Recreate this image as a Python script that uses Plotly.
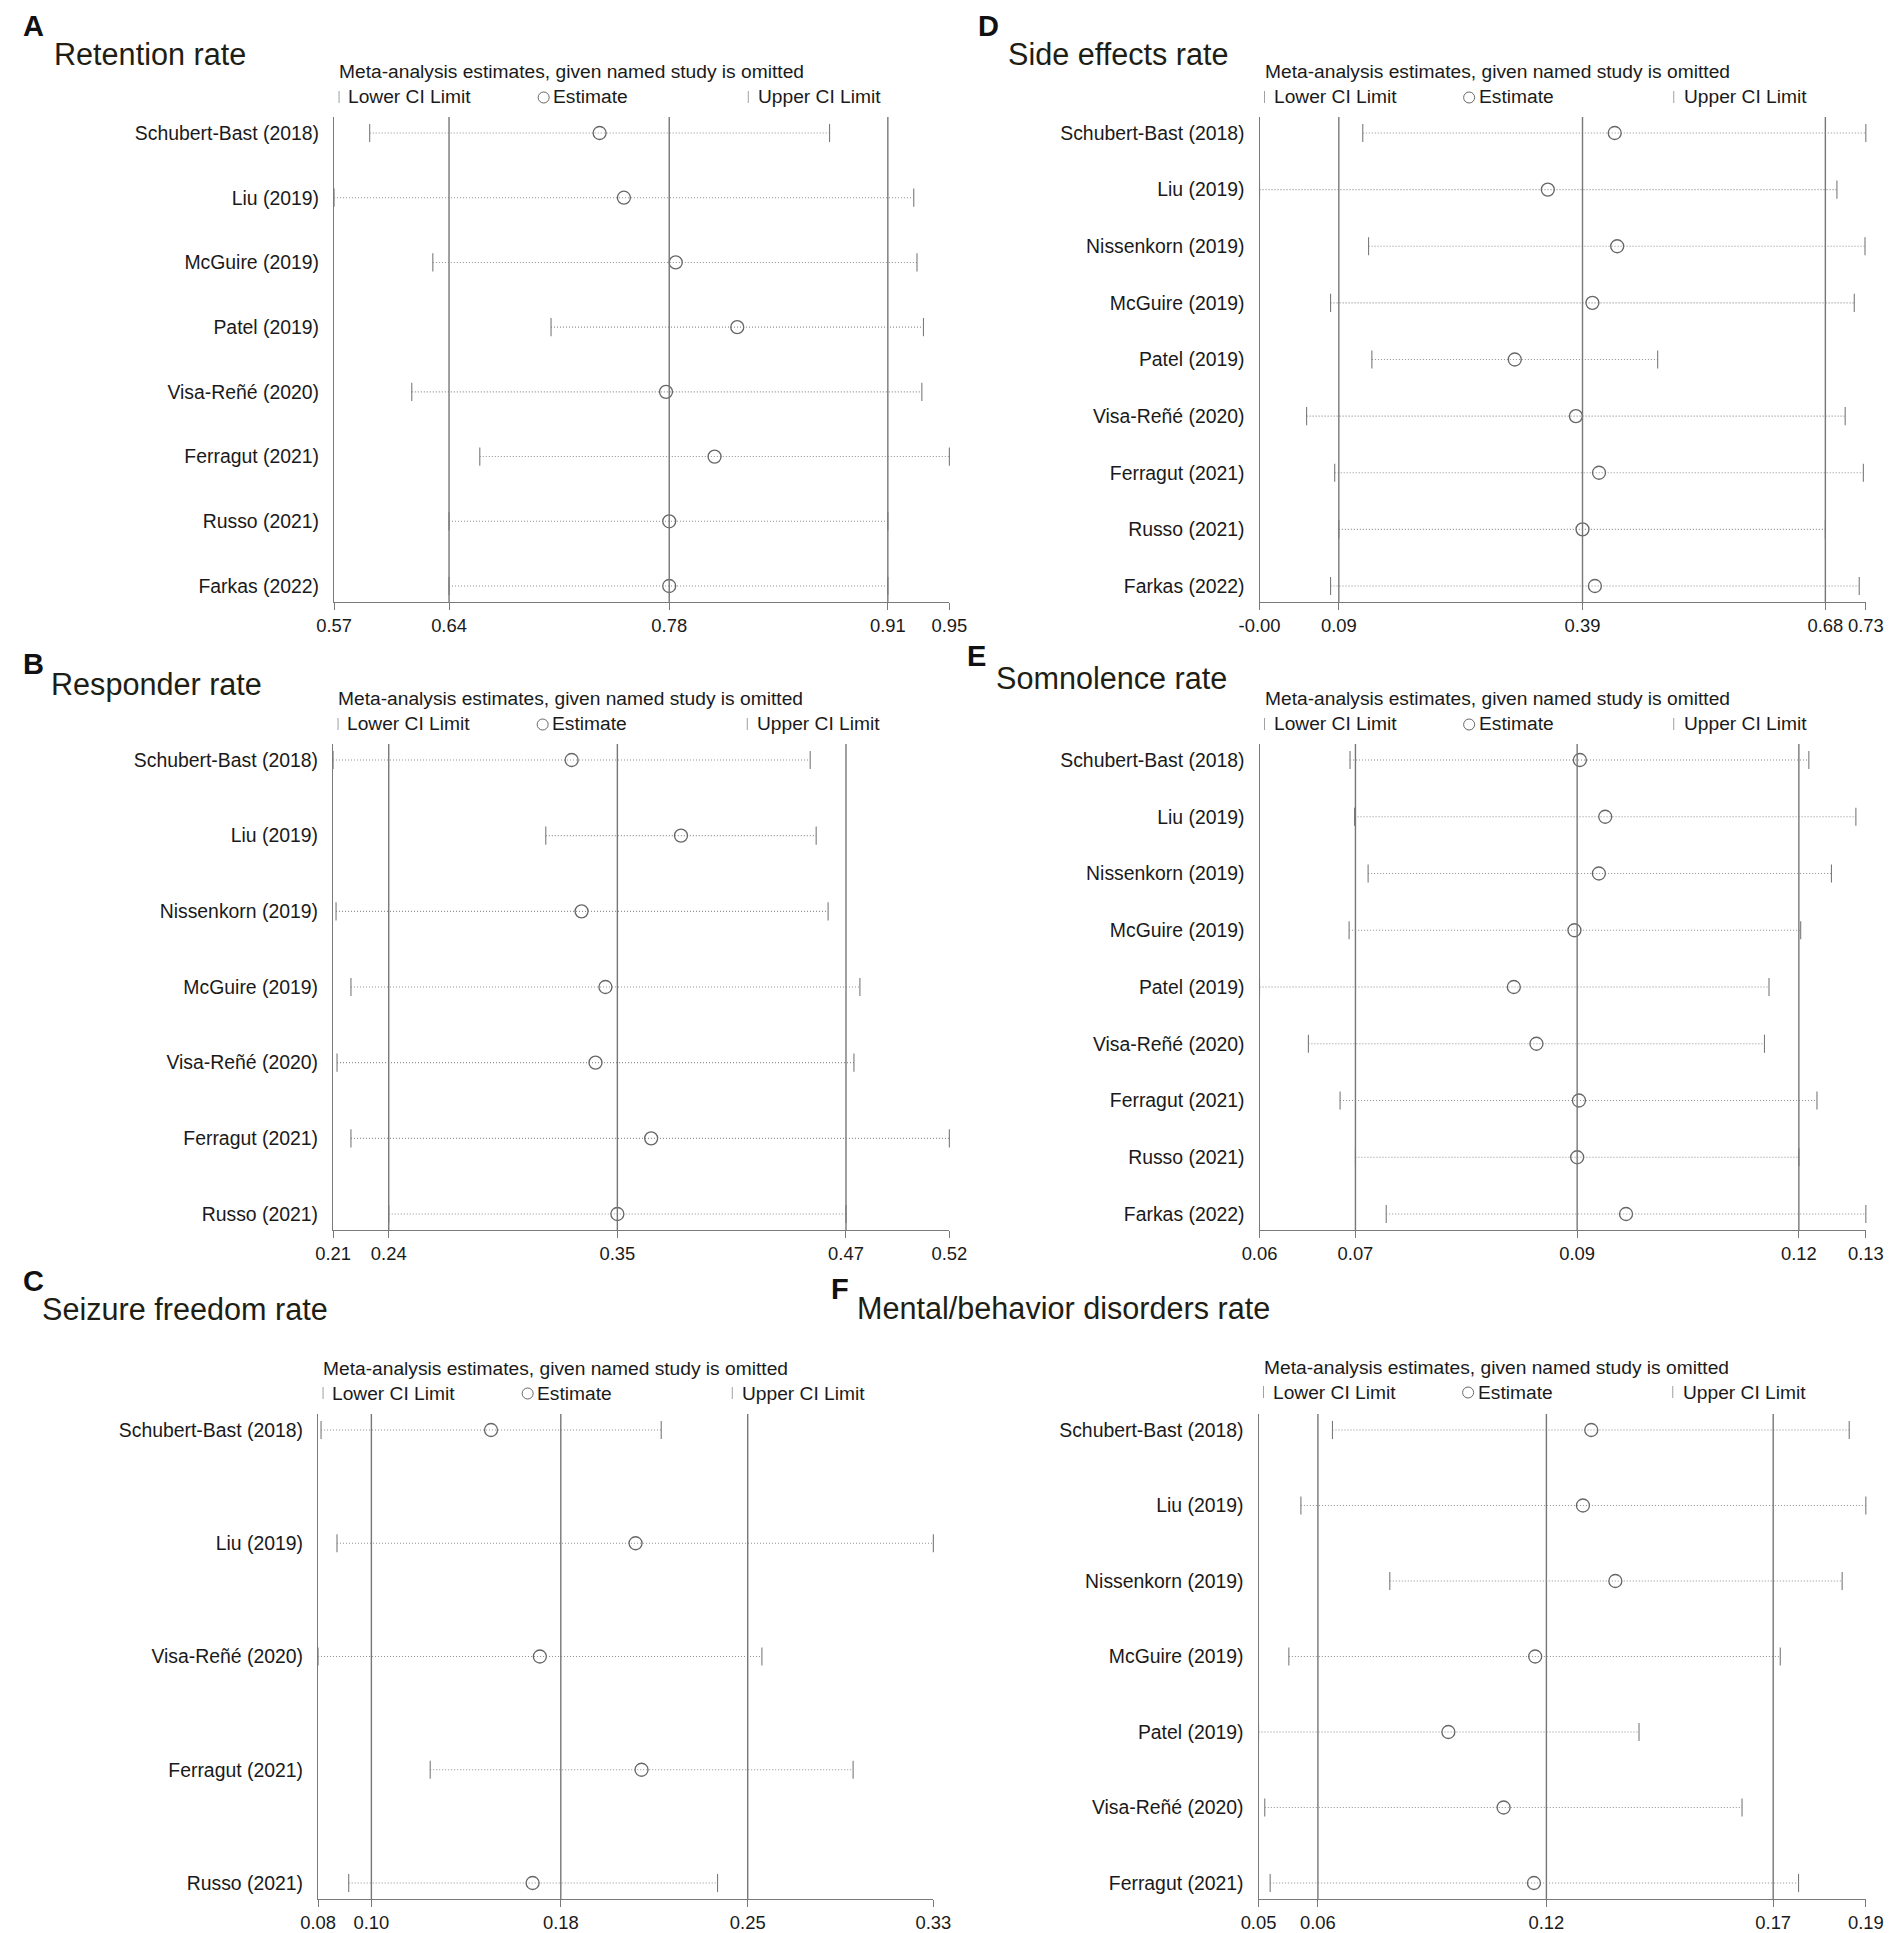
import plotly.graph_objects as go

W, H = 1902, 1933
# the photographed page comes out slightly squeezed sideways; positions below
# are where things should land in the photo, converted back with these two
KX, X0 = 0.979, 19.1

# ---- data ----
studies_A = ["Schubert-Bast (2018)", "Liu (2019)", "McGuire (2019)", "Patel (2019)",
             "Visa-Reñé (2020)", "Ferragut (2021)", "Russo (2021)", "Farkas (2022)"]
lo_A = [0.592, 0.570, 0.631, 0.704, 0.618, 0.660, 0.641, 0.641]
est_A = [0.734, 0.749, 0.781, 0.819, 0.775, 0.805, 0.777, 0.777]
hi_A = [0.876, 0.928, 0.930, 0.934, 0.933, 0.950, 0.912, 0.912]
overall_A = [0.641, 0.777, 0.912]
ticks_A = ["0.57", "0.64", "0.78", "0.91", "0.95"]

studies_B = ["Schubert-Bast (2018)", "Liu (2019)", "Nissenkorn (2019)", "McGuire (2019)",
             "Visa-Reñé (2020)", "Ferragut (2021)", "Russo (2021)"]
lo_B = [0.212, 0.319, 0.2135, 0.221, 0.214, 0.221, 0.240]
est_B = [0.332, 0.387, 0.337, 0.349, 0.344, 0.372, 0.355]
hi_B = [0.452, 0.455, 0.461, 0.477, 0.474, 0.522, 0.470]
overall_B = [0.240, 0.355, 0.470]
ticks_B = ["0.21", "0.24", "0.35", "0.47", "0.52"]

studies_C = ["Schubert-Bast (2018)", "Liu (2019)", "Visa-Reñé (2020)", "Ferragut (2021)",
             "Russo (2021)"]
lo_C = [0.0818, 0.0882, 0.0806, 0.1256, 0.0929]
est_C = [0.1500, 0.2080, 0.1696, 0.2104, 0.1667]
hi_C = [0.2183, 0.3275, 0.2587, 0.2953, 0.2409]
overall_C = [0.102, 0.178, 0.253]
ticks_C = ["0.08", "0.10", "0.18", "0.25", "0.33"]

studies_D = ["Schubert-Bast (2018)", "Liu (2019)", "Nissenkorn (2019)", "McGuire (2019)",
             "Patel (2019)", "Visa-Reñé (2020)", "Ferragut (2021)", "Russo (2021)",
             "Farkas (2022)"]
lo_D = [0.121, -0.004, 0.128, 0.082, 0.132, 0.053, 0.087, 0.092, 0.082]
est_D = [0.426, 0.345, 0.429, 0.399, 0.305, 0.379, 0.407, 0.387, 0.402]
hi_D = [0.730, 0.695, 0.729, 0.716, 0.478, 0.705, 0.727, 0.681, 0.722]
overall_D = [0.092, 0.387, 0.681]
ticks_D = ["-0.00", "0.09", "0.39", "0.68", "0.73"]

studies_E = studies_D
lo_E = [0.0689, 0.0694, 0.0709, 0.0688, 0.0589, 0.0643, 0.0678, 0.0695, 0.0729]
est_E = [0.0943, 0.0971, 0.0964, 0.0937, 0.0870, 0.0895, 0.0942, 0.0940, 0.0994]
hi_E = [0.1196, 0.1248, 0.1221, 0.1187, 0.1152, 0.1147, 0.1205, 0.1185, 0.1259]
overall_E = [0.0695, 0.0940, 0.1185]
ticks_E = ["0.06", "0.07", "0.09", "0.12", "0.13"]

studies_F = ["Schubert-Bast (2018)", "Liu (2019)", "Nissenkorn (2019)", "McGuire (2019)",
             "Patel (2019)", "Visa-Reñé (2020)", "Ferragut (2021)"]
lo_F = [0.0661, 0.0585, 0.0799, 0.0556, 0.0483, 0.0498, 0.0511]
est_F = [0.1284, 0.1264, 0.1342, 0.1149, 0.0940, 0.1073, 0.1146]
hi_F = [0.1905, 0.1945, 0.1888, 0.1739, 0.1399, 0.1647, 0.1783]
overall_F = [0.0626, 0.1176, 0.1722]
ticks_F = ["0.05", "0.06", "0.12", "0.17", "0.19"]

FONT = "Liberation Sans, Arial, sans-serif"
TXT = "#1a1a1a"

# layout boxes in photo pixels: (left, top, right, bottom) of the plot area
panels = [
    dict(letter="A", title="Retention rate", s=studies_A, lo=lo_A, est=est_A, hi=hi_A,
         ov=overall_A, tk=ticks_A, box=(332, 117, 947, 602), lt=(3, 26), ti=(50, 54),
         hdr=71, leg=97),
    dict(letter="B", title="Responder rate", s=studies_B, lo=lo_B, est=est_B, hi=hi_B,
         ov=overall_B, tk=ticks_B, box=(331, 744, 947, 1230), lt=(3, 664), ti=(47, 684),
         hdr=699, leg=724),
    dict(letter="C", title="Seizure freedom rate", s=studies_C, lo=lo_C, est=est_C, hi=hi_C,
         ov=overall_C, tk=ticks_C, box=(316, 1414, 931, 1899), lt=(3, 1281), ti=(38, 1309),
         hdr=1368, leg=1393),
    dict(letter="D", title="Side effects rate", s=studies_D, lo=lo_D, est=est_D, hi=hi_D,
         ov=overall_D, tk=ticks_D, box=(1257, 117, 1863, 602), lt=(974, 26), ti=(1004, 54),
         hdr=71, leg=97),
    dict(letter="E", title="Somnolence rate", s=studies_E, lo=lo_E, est=est_E, hi=hi_E,
         ov=overall_E, tk=ticks_E, box=(1257, 744, 1863, 1230), lt=(963, 656), ti=(992, 678),
         hdr=699, leg=724),
    dict(letter="F", title="Mental/behavior disorders rate", s=studies_F, lo=lo_F, est=est_F,
         hi=hi_F, ov=overall_F, tk=ticks_F, box=(1256, 1414, 1863, 1899), lt=(827, 1289),
         ti=(853, 1308), hdr=1367, leg=1392),
]


def px(x):
    return max((x - X0) / KX, 0) / W


def py(y):
    return 1 - y / H


fig = go.Figure()
shapes = []
annotations = []
axes = {}

for i, p in enumerate(panels, start=1):
    xa = "x" if i == 1 else f"x{i}"
    ya = "y" if i == 1 else f"y{i}"
    l, t, r, b = p["box"]
    n = len(p["s"])
    spacing = (b - t - 32) / (n - 1)
    pad = 16 / spacing

    # dotted CI lines
    xs, ys = [], []
    for s, lo, hi in zip(p["s"], p["lo"], p["hi"]):
        xs += [lo, hi, None]
        ys += [s, s, None]
    fig.add_trace(go.Scatter(x=xs, y=ys, mode="lines", xaxis=xa, yaxis=ya,
                             line=dict(color="#8f8f8f", width=1.1, dash="1px,2px"),
                             hoverinfo="skip", showlegend=False, cliponaxis=False))
    # CI caps
    fig.add_trace(go.Scatter(x=p["lo"] + p["hi"], y=p["s"] + p["s"], mode="markers",
                             xaxis=xa, yaxis=ya, showlegend=False, cliponaxis=False,
                             marker=dict(symbol="line-ns", size=13,
                                         line=dict(color="#7a7a7a", width=1.1))))
    # estimates
    fig.add_trace(go.Scatter(x=p["est"], y=p["s"], mode="markers", xaxis=xa, yaxis=ya,
                             showlegend=False, cliponaxis=False,
                             marker=dict(symbol="circle-open", size=13,
                                         color="#666666", line=dict(width=1.3))))

    # overall estimate and CI
    for v in p["ov"]:
        shapes.append(dict(type="line", xref=xa, yref=f"{ya} domain", x0=v, x1=v,
                           y0=0, y1=1, line=dict(color="#777777", width=1.4)))

    xmin, xmax = min(p["lo"]), max(p["hi"])
    axes["xaxis" if i == 1 else f"xaxis{i}"] = dict(
        domain=[px(l), px(r)], anchor=ya, range=[xmin, xmax],
        tickvals=[xmin] + p["ov"] + [xmax], ticktext=p["tk"],
        ticks="outside", ticklen=7, tickcolor="#7a7a7a", showline=True,
        linecolor="#7a7a7a", linewidth=1.2, showgrid=False, zeroline=False,
        tickfont=dict(family=FONT, size=18.4, color=TXT))
    axes["yaxis" if i == 1 else f"yaxis{i}"] = dict(
        domain=[py(b), py(t)], anchor=xa, type="category",
        categoryorder="array", categoryarray=p["s"], range=[n - 1 + pad, -pad],
        showline=True, linecolor="#7a7a7a", linewidth=1.2, ticks="",
        showgrid=False, zeroline=False, ticklabelstandoff=10,
        tickfont=dict(family=FONT, size=19.4, color=TXT))

    # panel letter and title
    annotations.append(dict(text=f"<b>{p['letter']}</b>", x=px(p["lt"][0]), y=py(p["lt"][1]),
                            xref="paper", yref="paper", xanchor="left", yanchor="middle",
                            showarrow=False, font=dict(family=FONT, size=29, color="#111")))
    annotations.append(dict(text=p["title"], x=px(p["ti"][0]), y=py(p["ti"][1]),
                            xref="paper", yref="paper", xanchor="left", yanchor="middle",
                            showarrow=False, font=dict(family=FONT, size=30.6, color="#1e1e14")))
    # legend header
    annotations.append(dict(text="Meta-analysis estimates, given named study is omitted",
                            x=px(l + 3), y=py(p["hdr"]), xref="paper", yref="paper",
                            xanchor="left", yanchor="middle", showarrow=False,
                            font=dict(family=FONT, size=19.2, color=TXT)))
    for dx, label in [(12, "Lower CI Limit"), (217, "Estimate"), (422, "Upper CI Limit")]:
        annotations.append(dict(text=label, x=px(l + dx), y=py(p["leg"]), xref="paper",
                                yref="paper", xanchor="left", yanchor="middle",
                                showarrow=False, font=dict(family=FONT, size=19.2, color=TXT)))
    for dx in (5, 414):
        shapes.append(dict(type="line", xref="paper", yref="paper", x0=px(l + dx), x1=px(l + dx),
                           y0=py(p["leg"] - 6), y1=py(p["leg"] + 6),
                           line=dict(color="#a0a0a0", width=1)))
    shapes.append(dict(type="circle", xref="paper", yref="paper",
                       x0=px(l + 204), x1=px(l + 215), y0=py(p["leg"] + 6), y1=py(p["leg"] - 5),
                       line=dict(color="#666666", width=1)))

fig.update_layout(width=W, height=H, margin=dict(l=0, r=0, t=0, b=0),
                  paper_bgcolor="white", plot_bgcolor="white",
                  shapes=shapes, annotations=annotations, showlegend=False,
                  font=dict(family=FONT, color=TXT), **axes)

# drop the default page margin so the figure starts at the window's corner
fig.write_html("out.html", config={"displayModeBar": False},
               post_script="document.body.style.margin='0';")
